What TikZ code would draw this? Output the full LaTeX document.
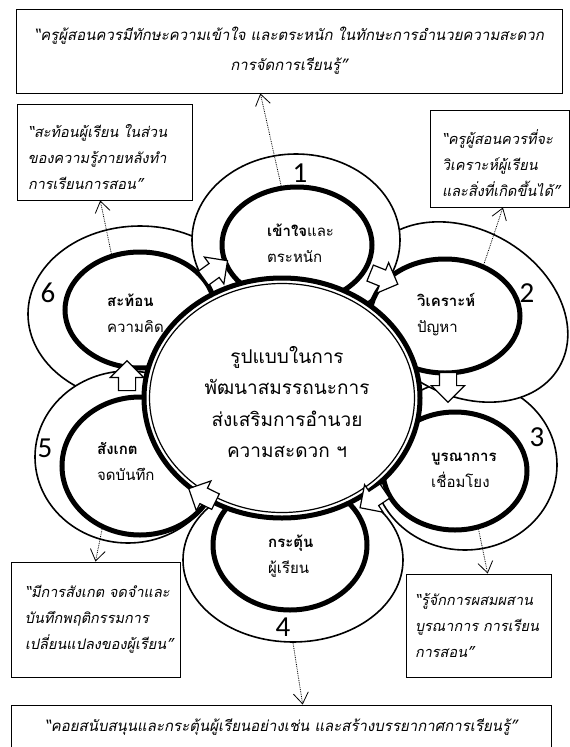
\documentclass[tikz,border=0pt]{standalone}
\usepackage{fontspec}
\usepackage{tikz}
\usetikzlibrary{shapes.geometric}
\usetikzlibrary{shapes.arrows}
\usetikzlibrary{arrows.meta}
\newfontfamily\thaifont[Script=Thai, ItalicFont=Loma, ItalicFeatures={FakeSlant=0.2}]{Loma}
\newfontfamily\numfont{Carlito}
\newcommand{\flowbody}{\vrule width 0pt height 8pt depth 8pt\hspace*{20pt}}
\newcommand{\quotelift}{\rule{0pt}{24pt}}

\begin{document}
\begin{tikzpicture}[x=1pt,y=1pt,yscale=-1,xscale=1,
  ring/.style={ellipse, draw, fill=white, line width=1.6pt, inner sep=0pt},
  core/.style={ellipse, draw, fill=white, line width=5pt, inner sep=0pt},
  flow/.style={single arrow, draw, fill=white, line width=1.2pt, inner sep=0pt, single arrow head extend=8pt, single arrow tip angle=90},
  quotebox/.style={draw, fill=white, line width=0.9pt, font=\thaifont\itshape\fontsize{14.5}{26}\selectfont},
  widequote/.style={quotebox, font=\thaifont\itshape\fontsize{15}{30}\selectfont, align=center},
  steplabel/.style={anchor=west, inner sep=0pt, align=left, font=\thaifont\fontsize{15}{26}\selectfont},
  stepnum/.style={inner sep=0pt, font=\numfont\fontsize{29}{29}\selectfont},
  hint/.style={densely dotted, line width=0.8pt, -{Straight Barb[length=11pt,width=15pt]}}
]
	\useasboundingbox (0,0) rectangle (570,747);

	% outer rings, back to front
	\node[ring, minimum width=224pt, minimum height=176pt] (out6) at (140,314) {};
	\node[ring, minimum width=186pt, minimum height=172pt] (out5) at (128,457) {};
	\node[ring, minimum width=220pt, minimum height=164pt] (out4) at (293,560) {};
	\node[ring, minimum width=184pt, minimum height=170pt] (out3) at (465,465) {};
	\node[ring, minimum width=220pt, minimum height=165pt, rotate=-30] (out2) at (464,312) {};
	\node[ring, minimum width=208pt, minimum height=172pt] (out1) at (296,240) {};

	% inner rings
	\node[core, minimum width=150pt, minimum height=116pt] (in1) at (297,245) {};
	\node[core, minimum width=150pt, minimum height=114pt] (in2) at (445,316) {};
	\node[core, minimum width=144pt, minimum height=118pt] (in3) at (455,471) {};
	\node[core, minimum width=154pt, minimum height=130pt] (in4) at (290,545) {};
	\node[core, minimum width=156pt, minimum height=138pt] (in5) at (140,466) {};
	\node[core, minimum width=150pt, minimum height=116pt] (in6) at (140,310) {};

	% hub
	\node[core, minimum width=276pt, minimum height=240pt] (hub) at (282,398) {};
	\node[ellipse, draw, line width=1.2pt, minimum width=265pt, minimum height=229pt, inner sep=0pt] (hubrim) at (hub) {};
	\node[font=\thaifont\fontsize{19}{31.5}\selectfont, align=center] (title) at (287,402) {รูปแบบในการ\\พัฒนาสมรรถนะการ\\ส่งเสริมการอำนวย\\ความสะดวก ฯ};

	% flow between steps
	\node[flow, rotate=36] (f61) at (212,272) {\flowbody};
	\node[flow, rotate=-22] (f12) at (380,277) {\flowbody};
	\node[flow, rotate=-90] (f23) at (448,383) {\flowbody};
	\node[flow, rotate=214] (f34) at (376,497) {\flowbody};
	\node[flow, rotate=154] (f45) at (206,497) {\flowbody};
	\node[flow, rotate=90] (f56) at (127,380) {\flowbody};

	% step labels
	\node[steplabel] (t1) at (267,243) {\textbf{เข้าใจ}และ\\ตระหนัก};
	\node[steplabel] (t2) at (417,315) {\textbf{วิเคราะห์}\\ปัญหา};
	\node[steplabel] (t3) at (431,470) {\textbf{บูรณาการ}\\เชื่อมโยง};
	\node[steplabel] (t4) at (268,556) {\textbf{กระตุ้น}\\ผู้เรียน};
	\node[steplabel] (t5) at (97,461) {\textbf{สังเกต}\\จดบันทึก};
	\node[steplabel] (t6) at (107,313) {\textbf{สะท้อน}\\ความคิด};

	\node[stepnum] (n1) at (300,173) {1};
	\node[stepnum] (n2) at (527,293) {2};
	\node[stepnum] (n3) at (537,437) {3};
	\node[stepnum] (n4) at (283,627) {4};
	\node[stepnum] (n5) at (45,448) {5};
	\node[stepnum] (n6) at (48,293) {6};

	% quote boxes
	\node[widequote, minimum width=546pt, minimum height=84pt] (goal1) at (289,51) {“ครูผู้สอนควรมีทักษะความเข้าใจ และตระหนัก ในทักษะการอำนวยความสะดวก\\การจัดการเรียนรู้”};
	\node[quotebox, text width=153pt, inner xsep=11pt, minimum height=96pt, align=left] (goal6) at (104.5,152) {\quotelift“สะท้อนผู้เรียน~ในส่วน\\ของความรู้ภายหลังทำ\\การเรียนการสอน”};
	\node[quotebox, text width=115pt, inner xsep=12pt, minimum height=97pt, align=left] (goal2) at (499.5,158.5) {\quotelift“ครูผู้สอนควรที่จะ\\วิเคราะห์ผู้เรียน\\และสิ่งที่เกิดขึ้นได้”};
	\node[quotebox, text width=141pt, inner xsep=14pt, minimum height=115pt, align=left] (goal5) at (95.5,619.5) {“มีการสังเกต~จดจำและ\\บันทึกพฤติกรรมการ\\เปลี่ยนแปลงของผู้เรียน”};
	\node[quotebox, text width=127pt, inner xsep=9pt, minimum height=103pt, align=left] (goal3) at (478.5,625.5) {“รู้จักการผสมผสาน\\บูรณาการ~การเรียน\\การสอน”};
	\node[widequote, minimum width=540pt, minimum height=44pt] (goal4) at (281,727) {“คอยสนับสนุนและกระตุ้นผู้เรียนอย่างเช่น และสร้างบรรยากาศการเรียนรู้”};

	% dotted hints to the quotes
	\draw[hint] (in1.105) -- (goal1.236);
	\draw[hint] (in6.117) -- (goal6.265);
	\draw[hint] (in2.53) -- (goal2.274);
	\draw[hint] (in3.292) -- (goal3.80);
	\draw[hint] (in5.239) -- (goal5.north);
	\draw[hint] (out4.south) -- (goal4.46);

\end{tikzpicture}
\end{document}
